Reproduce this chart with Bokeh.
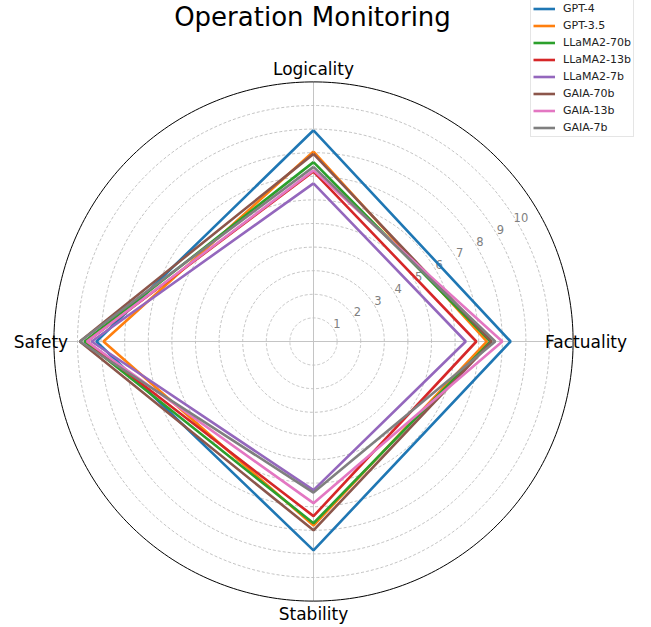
import numpy as np
from bokeh.plotting import figure
from bokeh.models import Range1d, Legend, LegendItem
from bokeh.core.properties import value
from bokeh.embed import file_html
from bokeh.resources import INLINE

categories = ["Logicality", "Factuality", "Stability", "Safety"]
cat_angles_deg = [90, 0, 270, 180]
models = ["GPT-4", "GPT-3.5", "LLaMA2-70b", "LLaMA2-13b", "LLaMA2-7b", "GAIA-70b", "GAIA-13b", "GAIA-7b"]
gpt4 = [8.95, 8.35, 8.85, 9.2]
gpt35 = [8.05, 7.35, 7.8, 8.9]
llama70 = [7.6, 7.5, 7.7, 9.7]
llama13 = [7.2, 6.9, 7.4, 9.6]
llama7 = [6.7, 6.45, 6.3, 9.4]
gaia70 = [7.95, 7.55, 8.0, 9.9]
gaia13 = [7.25, 8.0, 6.85, 9.6]
gaia7 = [7.4, 7.7, 6.4, 9.9]
series = [gpt4, gpt35, llama70, llama13, llama7, gaia70, gaia13, gaia7]
colors = ["#1f77b4", "#ff7f0e", "#2ca02c", "#d62728", "#9467bd", "#8c564b", "#e377c2", "#7f7f7f"]
r_ticks = [1, 2, 3, 4, 5, 6, 7, 8, 9, 10]
r_max = 11

W, H = 635, 627
U = 23.6          # pixels per radial unit
CX, CY = 313, 341  # centre in plot pixels (from top-left)

p = figure(width=W, height=H, output_backend="svg", toolbar_location=None,
           x_range=Range1d(-CX / U, (W - CX) / U), y_range=Range1d(-(H - CY) / U, CY / U),
           min_border=0)
p.axis.visible = False
p.grid.visible = False
p.outline_line_color = None
p.background_fill_color = "white"

FONT = value("DejaVu Sans")
th = np.linspace(0, 2 * np.pi, 361)

# grid circles
for r in r_ticks:
    p.line(r * np.cos(th), r * np.sin(th), line_color="#b4b4b4", line_width=0.8, line_dash="3 2")
# spokes
for a in cat_angles_deg:
    ar = np.deg2rad(a)
    p.line([0, r_max * np.cos(ar)], [0, r_max * np.sin(ar)], line_color="#bdbdbd", line_width=0.9)
# outer circle
p.line(r_max * np.cos(th), r_max * np.sin(th), line_color="black", line_width=1)

# radial tick labels
ta = np.deg2rad(30)
tx = [r * np.cos(ta) + 3 / U for r in r_ticks]
ty = [r * np.sin(ta) + 6 / U for r in r_ticks]
p.text(tx, ty, text=[str(r) for r in r_ticks], text_font=FONT, text_font_size="11.5px",
       text_color="#808080", text_align="center", text_baseline="middle")

# series
items = []
for name, vals, c in zip(models, series, colors):
    xs = [v * np.cos(np.deg2rad(a)) for v, a in zip(vals, cat_angles_deg)]
    ys = [v * np.sin(np.deg2rad(a)) for v, a in zip(vals, cat_angles_deg)]
    xs.append(xs[0]); ys.append(ys[0])
    r = p.line(xs, ys, line_color=c, line_width=2.6)
    items.append(LegendItem(label=name, renderers=[r]))

# category labels
lr = 11.55
cx = [lr * np.cos(np.deg2rad(a)) for a in cat_angles_deg]
cy = [lr * np.sin(np.deg2rad(a)) for a in cat_angles_deg]
p.text(cx, cy, text=categories, text_font=FONT, text_font_size="17px", text_color="black",
       text_align="center", text_baseline="middle")

# title
p.text([(312 - CX) / U], [(CY - 16) / U], text=["Operation Monitoring"], text_font=FONT,
       text_font_size="26px", text_color="black", text_align="center", text_baseline="middle")

legend = Legend(items=items, location=(530, H - 1 - 136), label_text_font="DejaVu Sans",
                label_text_font_size="11px", label_text_color="#222222",
                glyph_width=22, glyph_height=13, label_height=13,
                spacing=4, padding=2, margin=0, label_standoff=8,
                border_line_color="#cccccc", border_line_width=1, background_fill_alpha=0.9)
p.add_layout(legend)

open("out.html", "w").write(file_html(p, INLINE))
